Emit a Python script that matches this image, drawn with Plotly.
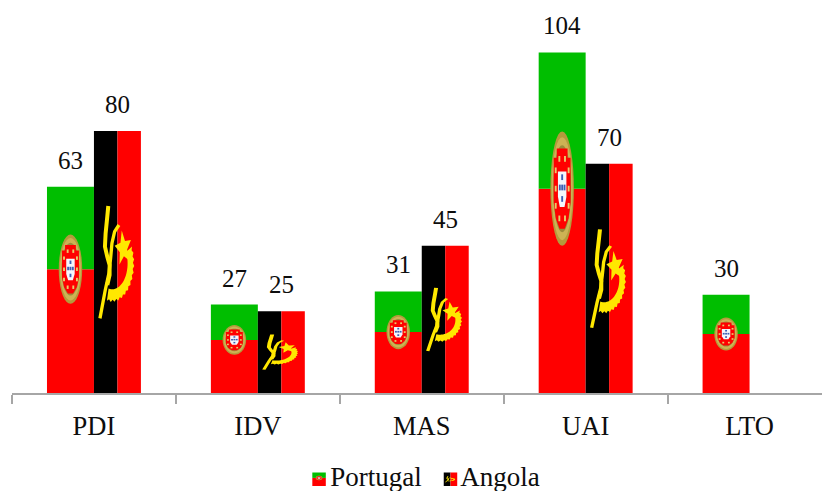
import numpy as np
import plotly.graph_objects as go

categories = ["PDI", "IDV", "MAS", "UAI", "LTO"]
portugal = [63, 27, 31, 104, 30]
angola = [80, 25, 45, 70, None]

GREEN, RED, BLACK = "#00BE00", "#FF0000", "#000000"
YELLOW, GOLD, GOLD_L, GOLD_D = "#FFE800", "#B49A3C", "#CDB254", "#9C8A3A"
GREY = "#A6A6A6"
INK = "#0D0D0D"
FONT = "Liberation Serif"
BW = 47 / 164
L, T, PLOT_W, PLOT_H = 11.5, 0, 810.5, 393


def poly(pts, color, xf, xref, yref):
    d = "M " + " L ".join(f"{xf(u, v)[0]:.5f},{xf(u, v)[1]:.5f}" for u, v in pts) + " Z"
    return dict(type="path", path=d, fillcolor=color, line=dict(width=0),
                xref=xref, yref=yref, layer="above")


def ellipse(cu, cv, ru, rv, n=36):
    t = np.linspace(0, 2 * np.pi, n, endpoint=False)
    return list(zip(cu + ru * np.cos(t), cv + rv * np.sin(t)))


def rect(cu, cv, ru, rv):
    return [(cu - ru, cv - rv), (cu + ru, cv - rv), (cu + ru, cv + rv), (cu - ru, cv + rv)]


def pt_emblem(x0, x1, y0, y1, xref="x", yref="y"):
    """Armillary sphere and shield, centred on the green/red boundary."""
    w, h = x1 - x0, y1 - y0
    cx, cy = (x0 + x1) / 2, y0 + 0.6 * h
    def xf(p, q):
        return cx + p * 0.25 * w, cy - q * 0.168 * h
    out = []
    for r, c in [(1.0, GOLD), (0.9, GOLD_L), (0.76, GOLD_D)]:
        out.append(poly(ellipse(0, 0, r, r), c, xf, xref, yref))
    shield = [(-.72, -.54), (-.72, .24), (-.54, .52), (-.22, .7), (.22, .7), (.54, .52), (.72, .24), (.72, -.54),
              (.46, -.54), (.46, -.7), (-.46, -.7), (-.46, -.54)]
    out.append(poly(shield, RED, xf, xref, yref))
    out.append(poly([(-.36, -.3), (.36, -.3), (.36, .14), (.2, .32), (-.2, .32), (-.36, .14)], "#F4F6FB", xf, xref, yref))
    for p, q in [(0, -.02), (0, -.2), (0, .18), (-.2, -.02), (.2, -.02)]:
        out.append(poly(rect(p, q, .08, .05), "#3D5FB4", xf, xref, yref))
    for p, q in [(-.55, -.32), (-.55, 0), (-.55, .3), (.55, -.32), (.55, 0), (.55, .3), (-.24, .52), (.24, .52), (-.24, -.52), (.24, -.52)]:
        out.append(poly(rect(p, q, .08, .05), "#E8CC6A", xf, xref, yref))
    return out


def ribbon(line, half):
    a = np.array(line, float)
    d = np.gradient(a, axis=0)
    n = np.c_[-d[:, 1], d[:, 0]] / np.linalg.norm(d, axis=1, keepdims=True)
    return [tuple(p) for p in a + n * half] + [tuple(p) for p in (a - n * half)[::-1]]


def ao_emblem(x0, x1, y0, y1, xref="x", yref="y"):
    """Half cog, machete and star; outlines are given on a 141 x 786 unit flag."""
    w, h = x1 - x0, y1 - y0
    def xf(a, b):
        return x0 + a / 141 * w, y0 + (193 - b / 3) / 262 * h
    out = []
    th = np.radians(np.arange(-26, 106, 5))
    teeth = np.where(np.arange(len(th)) % 2 == 0, 1.0, 0.94)
    outer = [(55 + 66 * t * np.cos(a), 190 + 116 * t * np.sin(a)) for a, t in zip(th, teeth)]
    inner = [(55 + 46 * np.cos(a), 190 + 78 * np.sin(a)) for a in th[::-1]]
    out.append(poly(outer + inner, YELLOW, xf, xref, yref))
    star = []
    for k in range(10):
        a = np.radians(-100 + k * 36)
        r = 1.0 if k % 2 == 0 else 0.45
        star.append((88 + 26 * r * np.cos(a), 145 + 54 * r * np.sin(a)))
    out.append(poly(star, YELLOW, xf, xref, yref))
    out.append(poly(ribbon([(43, 18), (40, 50), (35, 100), (33, 140), (40, 170), (47, 195), (47, 225), (40, 255)], 6), YELLOW, xf, xref, yref))
    out.append(poly(ribbon([(75, 75), (62, 95), (54, 130), (50, 175), (45, 220), (34, 270), (18, 355)], 5), YELLOW, xf, xref, yref))
    return out


fig = go.Figure()
pt_red = [v * 0.6 for v in portugal]
pt_green = [v * 0.4 for v in portugal]
ao_half = angola

fig.add_bar(x=categories, y=pt_red, width=BW, offset=-BW, marker=dict(color=RED, line_width=0),
            showlegend=False, hoverinfo="skip")
fig.add_bar(x=categories, y=pt_green, base=pt_red, width=BW, offset=-BW, marker=dict(color=GREEN, line_width=0),
            showlegend=False, hoverinfo="skip")
fig.add_bar(x=categories, y=ao_half, width=BW / 2, offset=0, marker=dict(color=BLACK, line_width=0),
            showlegend=False, hoverinfo="skip")
fig.add_bar(x=categories, y=ao_half, width=BW / 2, offset=BW / 2, marker=dict(color=RED, line_width=0),
            showlegend=False, hoverinfo="skip")
# Transparent full-size bars carry the legend entries.
for name, vals, off in [("Portugal", portugal, -BW), ("Angola", angola, 0)]:
    fig.add_bar(x=categories, y=vals, width=BW, offset=off, name=name,
                marker=dict(color="rgba(0,0,0,0)", line_width=0))

shapes, notes = [], []
for i, (p, a) in enumerate(zip(portugal, angola)):
    shapes += pt_emblem(i - BW, i, 0, p)
    notes.append(dict(x=i - BW / 2, y=p, text=str(p)))
    if a is not None:
        shapes += ao_emblem(i, i + BW, 0, a)
        notes.append(dict(x=i + BW / 2, y=a, text=str(a)))
for n in notes:
    n.update(xref="x", yref="y", showarrow=False, yanchor="bottom", yshift=11,
             font=dict(family=FONT, size=25, color=INK))


def px(x):
    return (x - L) / PLOT_W


def py(y):
    return (PLOT_H - y) / PLOT_H


def box(x0, x1, y0, y1, color):
    return dict(type="rect", xref="paper", yref="paper", x0=x0, x1=x1, y0=y0, y1=y1,
                fillcolor=color, line=dict(width=0), layer="above")


sx0, sx1, sy0, sy1 = px(312), px(325.5), py(486), py(472.5)
shapes += [box(sx0, sx1, sy0, sy0 + 0.6 * (sy1 - sy0), RED), box(sx0, sx1, sy0 + 0.6 * (sy1 - sy0), sy1, GREEN)]
shapes += pt_emblem(sx0, sx1, sy0, sy1, "paper", "paper")
ax0, ax1 = px(443.5), px(457)
shapes += [box(ax0, (ax0 + ax1) / 2, sy0, sy1, BLACK), box((ax0 + ax1) / 2, ax1, sy0, sy1, RED)]
shapes += ao_emblem(ax0, ax1, sy0, sy1, "paper", "paper")

fig.update_layout(
    width=822, height=491,
    margin=dict(l=L, r=0, t=T, b=491 - PLOT_H, pad=0, autoexpand=False),
    paper_bgcolor="white", plot_bgcolor="white",
    barmode="overlay",
    shapes=shapes,
    annotations=notes,
    showlegend=True,
    legend=dict(orientation="h", x=px(290), xanchor="left", y=py(451.5), yanchor="top",
                font=dict(family=FONT, size=27, color=INK), bgcolor="rgba(0,0,0,0)",
                entrywidth=85, entrywidthmode="pixels", traceorder="normal"),
    xaxis=dict(type="category", categoryorder="array", categoryarray=categories,
               range=[-0.5, 4.442], tickson="boundaries", ticks="outside", ticklen=9, tickwidth=1.5,
               tickcolor=GREY, showline=True, linecolor=GREY, linewidth=2, showgrid=False,
               zeroline=False, ticklabelstandoff=8,
               tickfont=dict(family=FONT, size=26.5, color=INK)),
    yaxis=dict(range=[0, 120], visible=False, showgrid=False, zeroline=False),
)

fig.write_html("out.html", config=dict(displayModeBar=False),
               post_script="document.body.style.margin='0';document.documentElement.style.overflow='hidden';")
